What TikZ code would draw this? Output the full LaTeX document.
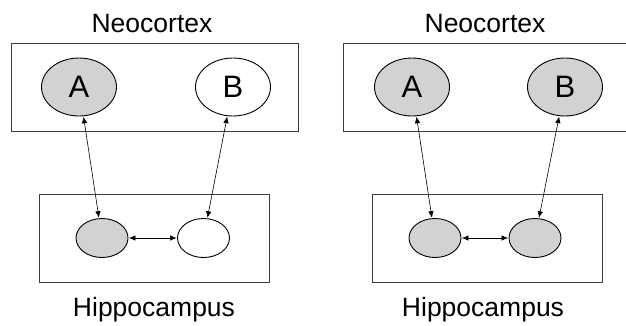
\documentclass[tikz,border=0pt]{standalone}
\usepackage{fontspec}
\setmainfont{Liberation Sans}
\usetikzlibrary{arrows.meta,shapes.geometric}
\definecolor{cellfill}{RGB}{209,211,211}
\definecolor{boxline}{RGB}{60,60,60}
\begin{document}
\begin{tikzpicture}[x=1pt,y=-1pt,
  region/.style={draw=boxline,line width=0.9pt,fill=none},
  bigcell/.style={ellipse,draw=black,line width=0.9pt,minimum width=75pt,minimum height=58pt,inner sep=0pt,font=\fontsize{31}{31}\selectfont},
  smallcell/.style={ellipse,draw=black,line width=0.9pt,minimum width=52pt,minimum height=39pt,inner sep=0pt},
  filled/.style={fill=cellfill},
  open/.style={fill=white},
  link/.style={line width=0.6pt,{Latex[length=6.5pt,width=5.5pt]}-{Latex[length=6.5pt,width=5.5pt]},shorten <=0.5pt,shorten >=0.5pt},
  title/.style={font=\fontsize{26.5}{26.5}\selectfont,inner sep=0pt}]
\useasboundingbox[fill=white] (0,0) rectangle (626,325);
% left panel
\node[title] (nl) at (152,24) {Neocortex};
\node[region,draw,minimum width=287pt,minimum height=88pt,inner sep=0pt] (tl) at (154.5,87) {};
\node[bigcell,filled] (al) at (79,87) {A};
\node[bigcell,open] (bl) at (233,87) {B};
\node[region,draw,minimum width=230pt,minimum height=88pt,inner sep=0pt] (dl) at (154,238) {};
\node[smallcell,filled] (ahl) at (102,238) {};
\node[smallcell,open] (bhl) at (203.5,238) {};
\node[title] (hl) at (154,310) {Hippocampus};
\draw[link] (al) -- (ahl);
\draw[link] (bl) -- (bhl);
\draw[link] (ahl) -- (bhl);
% right panel
\node[title] (nr) at (485,24) {Neocortex};
\node[region,draw,minimum width=283pt,minimum height=88pt,inner sep=0pt] (tr) at (484.5,87) {};
\node[bigcell,filled] (ar) at (412,87) {A};
\node[bigcell,filled] (br) at (565,87) {B};
\node[region,draw,minimum width=230pt,minimum height=88pt,inner sep=0pt] (dr) at (487,238) {};
\node[smallcell,filled] (ahr) at (435,238) {};
\node[smallcell,filled] (bhr) at (535,238) {};
\node[title] (hr) at (483,310) {Hippocampus};
\draw[link] (ar) -- (ahr);
\draw[link] (br) -- (bhr);
\draw[link] (ahr) -- (bhr);
\end{tikzpicture}
\end{document}
